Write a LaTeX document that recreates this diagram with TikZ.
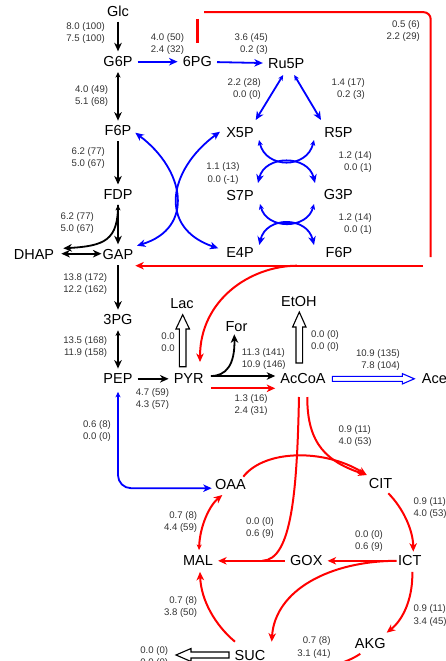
\documentclass[tikz,border=0pt]{standalone}
\usepackage{fontspec}
\setmainfont{Liberation Sans}
\usetikzlibrary{arrows.meta,calc}
\definecolor{lblgray}{HTML}{333333}
\begin{document}
\begin{tikzpicture}[x=1pt,y=-1pt,
  nd/.style={inner sep=5pt, font=\fontsize{14.5}{17}\selectfont},
  lb/.style={inner sep=0pt, font=\fontsize{9.6}{12.3}\selectfont, text=lblgray},
  bigtip/.tip={Stealth[length=8.5pt,width=7.5pt,inset=2.5pt]},
  smtip/.tip={Stealth[length=5.5pt,width=5pt,inset=1.5pt]},
  blk/.style={line width=1.8pt, draw=black},
  blu/.style={line width=1.8pt, draw=blue},
  rd/.style={line width=2pt, draw=red},
  fw/.style={-{bigtip}},
  rv/.style={{smtip}-{bigtip}},
  bb/.style={{bigtip}-{bigtip}},
  ss/.style={{smtip}-{smtip}},
  pics/hollowarr/.style n args={5}{code={%
    \draw[#5, line width=1.1pt, fill=white] (0,-#2) -- ({#1-#4},-#2) -- ({#1-#4},-#3) -- (#1,0) -- ({#1-#4},#3) -- ({#1-#4},#2) -- (0,#2) -- cycle;}}
]
\path[fill=white] (0,0) rectangle (446,661);
\useasboundingbox (0,0) rectangle (446,661);

% metabolites
\node[nd] (Glc) at (118,11) {Glc};
\node[nd] (G6P) at (118,61.7) {G6P};
\node[nd] (PGsix) at (197.3,61.7) {6PG};
\node[nd] (Ru5P) at (286.2,63.5) {Ru5P};
\node[nd] (F6Pa) at (118,131) {F6P};
\node[nd] (X5P) at (240,132.5) {X5P};
\node[nd] (R5P) at (338.5,132.5) {R5P};
\node[nd] (FDP) at (118,194.7) {FDP};
\node[nd] (S7P) at (240,195.5) {S7P};
\node[nd] (G3P) at (338.3,195) {G3P};
\node[nd] (DHAP) at (34,254.7) {DHAP};
\node[nd] (GAP) at (118,254.7) {GAP};
\node[nd] (E4P) at (240,253) {E4P};
\node[nd] (F6Pb) at (339,253) {F6P};
\node[nd] (PGthree) at (118,320) {3PG};
\node[nd] (Lac) at (182,303.8) {Lac};
\node[nd] (For) at (236.5,326.7) {For};
\node[nd] (EtOH) at (298.8,301.3) {EtOH};
\node[nd] (PEP) at (118,378.8) {PEP};
\node[nd] (PYR) at (188.7,378.8) {PYR};
\node[nd] (AcCoA) at (303,378.8) {AcCoA};
\node[nd, anchor=west, inner sep=0pt] (Ace) at (421.7,378.8) {Ace};
\node[nd] (OAA) at (230.5,484.2) {OAA};
\node[nd] (CIT) at (380.5,484) {CIT};
\node[nd] (MAL) at (198,560.8) {MAL};
\node[nd] (GOX) at (306.3,560.8) {GOX};
\node[nd] (ICT) at (409.7,560.8) {ICT};
\node[nd] (AKG) at (370.3,643.8) {AKG};
\node[nd] (SUC) at (250,655.5) {SUC};

% black connectors
\draw[blk,fw] (Glc) -- (G6P);
\draw[blk,rv] (G6P) -- (F6Pa);
\draw[blk,fw] (F6Pa) -- (FDP);
\draw[blk,rv] (FDP) -- (GAP);
\draw[blk,fw] (FDP.south) .. controls (118,240) and (105,246) .. ($(DHAP)+(29.3,-6.4)$);
\draw[blk,bb] ($(DHAP.east)+(2,-1)$) -- ($(GAP.west)+(4,-1)$);
\draw[blk,fw] (GAP) -- (PGthree);
\draw[blk,rv] (PGthree) -- (PEP);
\draw[blk,fw] (PEP) -- (PYR);
\draw[blk,fw] ($(PYR.east)+(2,-2.8)$) -- ($(AcCoA.west)+(0,-2.8)$);
\draw[blk,fw] ($(PYR.east)+(2,-2.8)$) .. controls (226,376) and (235,365) .. ($(For)+(-2.2,7.6)$);

% blue connectors
\draw[blu,fw] (G6P) -- (PGsix);
\draw[blu,fw] (PGsix) -- (Ru5P);
\draw[blu,rv] ($(Ru5P)+(-3,11.5)$) -- ($(X5P)+(15.7,-12.5)$);
\draw[blu,rv] ($(Ru5P)+(8,11.5)$) -- ($(R5P)+(-17.5,-12.5)$);
\draw[blu,bb] ($(F6Pa)+(17.3,1.7)$) .. controls (185,170) and (195,228) .. ($(GAP)+(19,-9)$);
\draw[blu,bb] ($(X5P)+(-20,-0.8)$) .. controls (168,170) and (158,228) .. ($(E4P)+(-21.7,-4.7)$);
\draw[blu,ss] ($(X5P)+(19,7.5)$) .. controls (266,169) and (307,169) .. ($(R5P)+(-24.5,7.5)$);
\draw[blu,bb] ($(S7P)+(18,-12.5)$) .. controls (265,154.6) and (308,154.6) .. ($(G3P)+(-23.3,-12)$);
\draw[blu,ss] ($(S7P)+(20,8.5)$) .. controls (267,229.7) and (307,229.7) .. ($(G3P)+(-24.3,9)$);
\draw[blu,bb] ($(E4P)+(19.3,-8)$) .. controls (266,216) and (307,216) .. ($(F6Pb)+(-25,-8)$);
\draw[blu,rv,rounded corners=13pt] ($(PEP)+(0,13)$) |- ($(OAA)+(-18.8,4)$);

% red connectors
\coordinate (rA) at (197.7,19);
\coordinate (rB) at (197.7,42.7);
\draw[rd, line width=3pt] (rA) -- (rB);
\coordinate (rT) at (204,12.2);
\coordinate (rC) at (430.7,12.2);
\coordinate (rD) at (430.7,257);
\draw[rd, rounded corners=7pt] (rT) -- (rC) -- (rD);
\coordinate (rE) at (423,265.7);
\draw[rd,fw] (rE) -- ($(GAP)+(17.3,11)$);
\coordinate (rF) at (297,265.7);
\draw[rd,fw] (rF) .. controls (250,266) and (200,300) .. ($(PYR)+(11.3,-16.8)$);
\draw[rd,fw] ($(PYR.east)+(2,9.5)$) -- ($(AcCoA.west)+(0,9.5)$);
\draw[rd] ($(AcCoA)+(-4,18.2)$) .. controls (297,490) and (292,560) .. ($(GOX)+(-44,0)$);
\draw[rd,fw] ($(AcCoA)+(4.3,18.2)$) .. controls (307,445) and (328,462) .. ($(CIT)+(-13.8,-9)$);
\draw[rd,fw] ($(OAA)+(12.8,-7.5)$) .. controls (265,449) and (325,449) .. ($(CIT)+(-13.8,-9)$);
\draw[rd,fw] ($(CIT)+(7.8,9.3)$) .. controls (403,508) and (413,530) .. ($(ICT)+(3.6,-9.1)$);
\draw[rd,fw] (ICT) -- (GOX);
\draw[rd,fw] (GOX) -- (MAL);
\draw[rd,fw] ($(ICT)+(-13,0)$) .. controls (330,561) and (275,590) .. ($(SUC)+(21.7,-13.8)$);
\draw[rd,fw] ($(ICT)+(2.6,11)$) .. controls (413,595) and (405,618) .. ($(AKG)+(16.4,-11.1)$);
\draw[rd,fw] ($(AKG)+(-10,10)$) .. controls (340,668) and (290,676) .. ($(SUC)+(15,16)$);
\draw[rd,fw] ($(SUC)+(-15,-13.8)$) .. controls (215,625) and (201,600) .. ($(MAL)+(2,11)$);
\draw[rd,rv] ($(MAL)+(1,-10.8)$) .. controls (200,525) and (210,505) .. ($(OAA)+(-8.2,10.8)$);

% hollow export arrows
\pic[rotate=90] at ($(PYR)+(-6,-12.1)$) {hollowarr={52}{3.3}{6.8}{14.3}{black}};
\pic[rotate=90] at ($(AcCoA)+(-3.7,-15.8)$) {hollowarr={51}{3.3}{6.7}{15}{black}};
\pic at ($(AcCoA)+(29.3,0)$) {hollowarr={82}{2.5}{5.2}{12}{blue}};
\pic[rotate=180] at ($(SUC)+(-21,-0.5)$) {hollowarr={53}{3}{6.5}{15}{black}};

% flux labels
\node[lb, anchor=east, align=right] (l1) at (105,33.3) {8.0 (100)\\7.5 (100)};
\node[lb, anchor=west, align=left] (l2) at (150.7,44.3) {4.0 (50)\\2.4 (32)};
\node[lb, anchor=east, align=right] (l3) at (268,44.3) {3.6 (45)\\0.2 (3)};
\node[lb, anchor=east, align=right] (l4) at (420,31.3) {0.5 (6)\\2.2 (29)};
\node[lb, anchor=east, align=right] (l5) at (108.3,95.8) {4.0 (49)\\5.1 (68)};
\node[lb, anchor=east, align=right] (l6) at (261,88.8) {2.2 (28)\\0.0 (0)};
\node[lb, anchor=east, align=right] (l7) at (365,88.8) {1.4 (17)\\0.2 (3)};
\node[lb, anchor=east, align=right] (l8) at (105,158) {6.2 (77)\\5.0 (67)};
\node[lb, align=center] (l9) at (223,173.5) {1.1 (13)\\0.0 (-1)};
\node[lb, anchor=east, align=right] (l10) at (372,162.3) {1.2 (14)\\0.0 (1)};
\node[lb, anchor=east, align=right] (l11) at (372,224) {1.2 (14)\\0.0 (1)};
\node[lb, anchor=east, align=right] (l12) at (94,222.8) {6.2 (77)\\5.0 (67)};
\node[lb, anchor=east, align=right] (l13) at (107.3,284.3) {13.8 (172)\\12.2 (162)};
\node[lb, anchor=east, align=right] (l14) at (107.3,346.8) {13.5 (168)\\11.9 (158)};
\node[lb, anchor=east, align=right] (l15) at (175,342) {0.0\\0.0};
\node[lb, anchor=west, align=left] (l16) at (135.7,398.8) {4.7 (59)\\4.3 (57)};
\node[lb, anchor=east, align=right] (l17) at (111,430.8) {0.6 (8)\\0.0 (0)};
\node[lb, anchor=west, align=left] (l18) at (241.7,358.8) {11.3 (141)\\10.9 (146)};
\node[lb, anchor=west, align=left] (l19) at (311,341) {0.0 (0)\\0.0 (0)};
\node[lb, anchor=east, align=right] (l20) at (400,360.3) {10.9 (135)\\7.8 (104)};
\node[lb, anchor=west, align=left] (l21) at (234.3,405.3) {1.3 (16)\\2.4 (31)};
\node[lb, anchor=west, align=left] (l22) at (338.3,435.8) {0.9 (11)\\4.0 (53)};
\node[lb, anchor=west, align=left] (l23) at (413.3,508) {0.9 (11)\\4.0 (53)};
\node[lb, anchor=west, align=left] (l24) at (246,528) {0.0 (0)\\0.6 (9)};
\node[lb, anchor=west, align=left] (l25) at (355,541) {0.0 (0)\\0.6 (9)};
\node[lb, anchor=east, align=right] (l26) at (197.3,522) {0.7 (8)\\4.4 (59)};
\node[lb, anchor=east, align=right] (l27) at (197.3,606.8) {0.7 (8)\\3.8 (50)};
\node[lb, anchor=west, align=left] (l28) at (413.3,615.5) {0.9 (11)\\3.4 (45)};
\node[lb, anchor=east, align=right] (l29) at (330.7,647.5) {0.7 (8)\\3.1 (41)};
\node[lb, anchor=east, align=right] (l30) at (168.3,656.8) {0.0 (0)\\0.0 (0)};
\end{tikzpicture}
\end{document}
